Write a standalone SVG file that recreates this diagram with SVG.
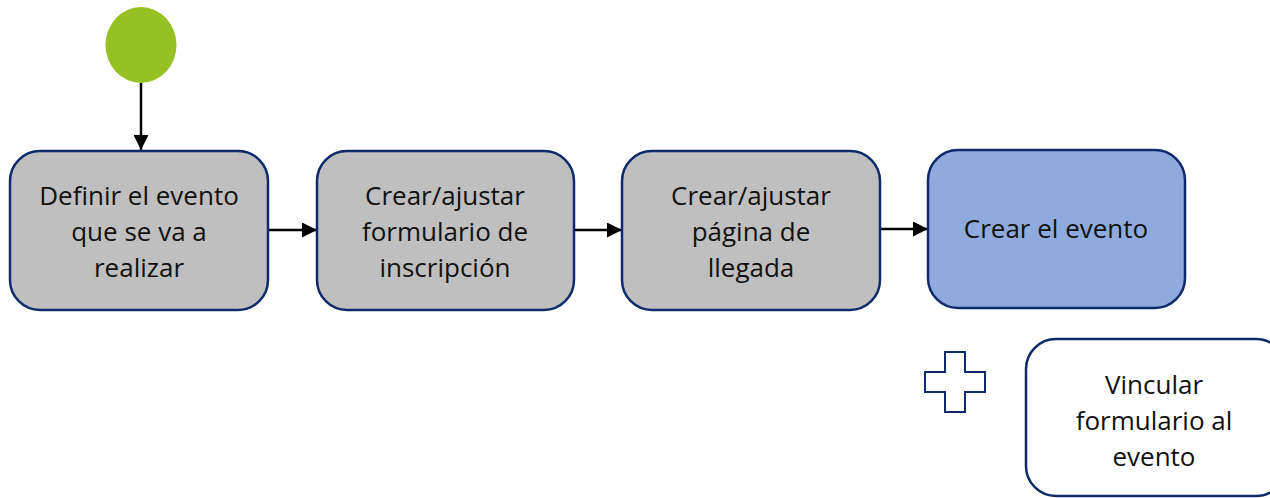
<svg xmlns="http://www.w3.org/2000/svg" width="1270" height="498" viewBox="0 0 1270 498">
<style>
.box{stroke:#0e2a6b;stroke-width:2.5}
.gray{fill:#bfbfbf}
.blue{fill:#8faadc}
.white{fill:#ffffff}
.t{font-family:"Open Sans","Liberation Sans",sans-serif;font-size:26px;fill:#111;text-anchor:middle}
.c{stroke:#000;stroke-width:2.5;fill:none;marker-end:url(#ah)}
</style>
<defs>
<marker id="ah" markerWidth="15" markerHeight="15" refX="14" refY="7" orient="auto" markerUnits="userSpaceOnUse" viewBox="0 0 14 14">
<path d="M0,0 L14,7 L0,14 Z" fill="#000"/>
</marker>
</defs>
<rect width="1270" height="498" fill="#fff"/>
<g id="start"><ellipse cx="141" cy="45" rx="35.5" ry="38" fill="#97c023"/></g>
<g id="connectors">
<line class="c" x1="141" y1="83" x2="141" y2="150"/>
<line class="c" x1="268" y1="230" x2="317" y2="230"/>
<line class="c" x1="574" y1="230" x2="622" y2="230"/>
<line class="c" x1="880" y1="229" x2="928" y2="229"/>
</g>
<g id="n1"><rect class="box gray" x="10" y="151" width="258" height="159" rx="30"/>
<text class="t" x="139" y="205">Definir el evento</text><text class="t" x="139" y="241">que se va a</text><text class="t" x="139" y="277">realizar</text></g>
<g id="n2"><rect class="box gray" x="317" y="151" width="257" height="159" rx="30"/>
<text class="t" x="445" y="205">Crear/ajustar</text><text class="t" x="445" y="241">formulario de</text><text class="t" x="445" y="277">inscripción</text></g>
<g id="n3"><rect class="box gray" x="622" y="151" width="258" height="159" rx="30"/>
<text class="t" x="751" y="205">Crear/ajustar</text><text class="t" x="751" y="241">página de</text><text class="t" x="751" y="277">llegada</text></g>
<g id="n4"><rect class="box blue" x="928" y="150" width="257" height="158" rx="30"/>
<text class="t" x="1056" y="238">Crear el evento</text></g>
<g id="plus"><path d="M945,352 H965 V372 H985 V392 H965 V412 H945 V392 H925 V372 H945 Z" fill="#fff" stroke="#0e2a6b" stroke-width="2"/></g>
<g id="n5"><rect class="box white" x="1026" y="339" width="260" height="157" rx="30"/>
<text class="t" x="1154" y="394">Vincular</text><text class="t" x="1154" y="430">formulario al</text><text class="t" x="1154" y="466">evento</text></g>
</svg>
